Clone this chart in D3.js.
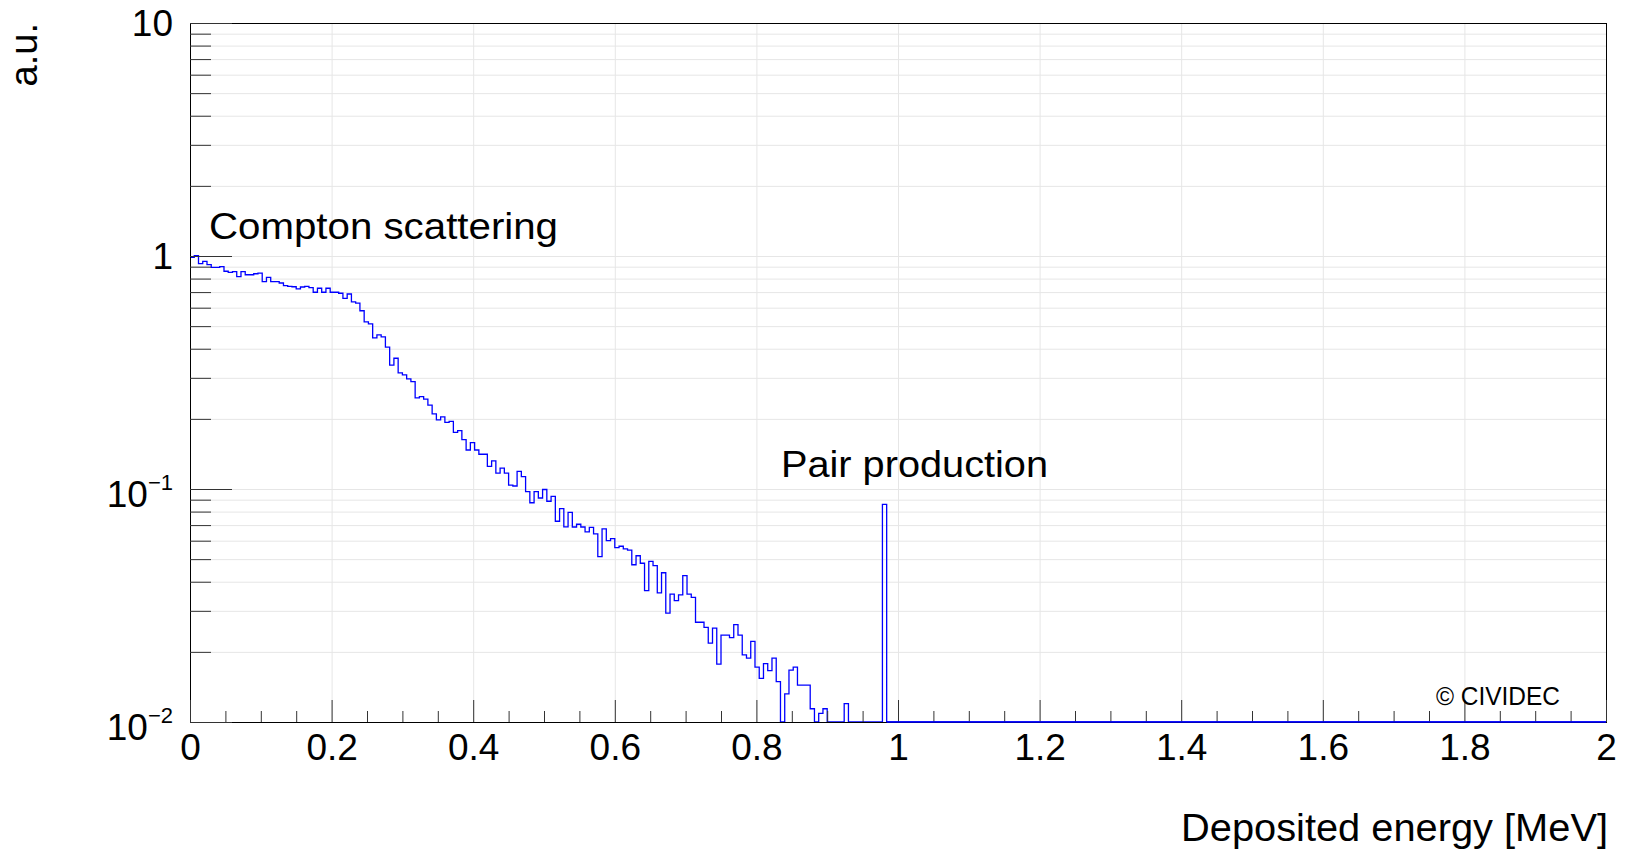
<!DOCTYPE html>
<html>
<head>
<meta charset="utf-8">
<script src="https://cdn.jsdelivr.net/npm/d3@7"></script>
<style>
  html, body { margin: 0; padding: 0; background: #fff; }
  svg { display: block; font-family: "Liberation Sans", Arial, Helvetica, sans-serif; }
</style>
</head>
<body>
<svg id="chart" width="1629" height="849"></svg>
<script>
// Histogram of deposited energy, fixed bin width in MeV, first bin starts at 0
const binWidth = 0.006;
const binContent = [
  0.987, 1.003, 0.927, 0.949, 0.918, 0.894, 0.894, 0.900, 0.860, 0.851,
  0.857, 0.815, 0.857, 0.831, 0.831, 0.839, 0.845, 0.776, 0.810, 0.776,
  0.776, 0.766, 0.746, 0.741, 0.738, 0.722, 0.736, 0.741, 0.731, 0.699,
  0.727, 0.699, 0.727, 0.699, 0.699, 0.692, 0.658, 0.687, 0.636, 0.628,
  0.582, 0.522, 0.511, 0.445, 0.459, 0.450, 0.406, 0.340, 0.364, 0.315,
  0.309, 0.297, 0.289, 0.246, 0.249, 0.243, 0.229, 0.210, 0.198, 0.204,
  0.193, 0.195, 0.175, 0.178, 0.163, 0.147, 0.158, 0.147, 0.141, 0.141,
  0.125, 0.132, 0.117, 0.123, 0.117, 0.104, 0.103, 0.119, 0.113, 0.0974,
  0.0873, 0.0974, 0.0915, 0.0995, 0.0886, 0.0930, 0.0727, 0.0823, 0.0688, 0.0794,
  0.0687, 0.0706, 0.0687, 0.0654, 0.0684, 0.0642, 0.0513, 0.0674, 0.0600, 0.0612,
  0.0560, 0.0568, 0.0553, 0.0547, 0.0473, 0.0517, 0.0480, 0.0366, 0.0489, 0.0469,
  0.0358, 0.0437, 0.0293, 0.0354, 0.0332, 0.0351, 0.0425, 0.0354, 0.0343, 0.0268,
  0.0268, 0.0255, 0.0218, 0.0253, 0.0177, 0.0236, 0.0236, 0.0230, 0.0262, 0.0236,
  0.0194, 0.0188, 0.0222, 0.0172, 0.0154, 0.0178, 0.0166, 0.0188, 0.0149, 0,
  0.0132, 0.0167, 0.0172, 0.0144, 0.0144, 0.0144, 0.0114, 0, 0.0109, 0.0114,
  0, 0, 0, 0, 0.0120, 0, 0, 0, 0, 0,
  0, 0, 0, 0.0859
];

// Axis ranges
const xDomain = [0, 2];
const yDomain = [0.01, 10];

// Tick values and labels
const xMajorTicks = [0, 0.2, 0.4, 0.6, 0.8, 1.0, 1.2, 1.4, 1.6, 1.8, 2.0];
const xTickLabels = ["0", "0.2", "0.4", "0.6", "0.8", "1", "1.2", "1.4", "1.6", "1.8", "2"];
const xMinorTicks = [0.05, 0.1, 0.15, 0.25, 0.3, 0.35, 0.45, 0.5, 0.55, 0.65, 0.7, 0.75,
  0.85, 0.9, 0.95, 1.05, 1.1, 1.15, 1.25, 1.3, 1.35, 1.45, 1.5, 1.55,
  1.65, 1.7, 1.75, 1.85, 1.9, 1.95];
const yMajorTicks = [0.01, 0.1, 1, 10];
const yTickBase = ["10", "10", "1", "10"];
const yTickExp = ["\u22122", "\u22121", "", ""];
const yMinorTicks = [0.02, 0.03, 0.04, 0.05, 0.06, 0.07, 0.08, 0.09,
  0.2, 0.3, 0.4, 0.5, 0.6, 0.7, 0.8, 0.9,
  2, 3, 4, 5, 6, 7, 8, 9];

const xTitle = "Deposited energy [MeV]";
const yTitle = "a.u.";
const comptonLabel = "Compton scattering";
const pairLabel = "Pair production";
const creditLabel = "\u00a9 CIVIDEC";

const svg = d3.select("#chart");
const frameLeft = 190, frameRight = 1606, frameTop = 23, frameBottom = 722;

const x = d3.scaleLinear().domain(xDomain).range([frameLeft, frameRight]);
const y = d3.scaleLog().domain(yDomain).range([frameBottom, frameTop]);

const gridColor = "#e6e6e6";
const tickColor = "#333";
const labelFont = "'Liberation Sans', Arial, sans-serif";

// Grid lines
const grid = svg.append("g").attr("class", "grid");
grid.append("g")
  .attr("transform", `translate(0,${frameBottom})`)
  .call(d3.axisBottom(x).tickValues(xMajorTicks.slice(1)).tickSize(-(frameBottom - frameTop)).tickFormat(""))
  .call(g => g.select(".domain").remove())
  .call(g => g.selectAll("line").attr("stroke", gridColor));
grid.append("g")
  .attr("transform", `translate(${frameLeft},0)`)
  .call(d3.axisLeft(y).tickValues(yMinorTicks.concat([0.1, 1])).tickSize(-(frameRight - frameLeft)).tickFormat(""))
  .call(g => g.select(".domain").remove())
  .call(g => g.selectAll("line").attr("stroke", gridColor));

// Histogram outline; empty bins sit on the lower edge of the frame
const floorValue = yDomain[0];
const steps = binContent.map((c, i) => ({ e: i * binWidth, v: Math.max(c, floorValue) }));
steps.push({ e: binContent.length * binWidth, v: floorValue });
steps.push({ e: xDomain[1], v: floorValue });

const line = d3.line()
  .x(d => x(d.e))
  .y(d => y(d.v))
  .curve(d3.curveStepAfter);

svg.append("path")
  .datum(steps)
  .attr("d", line)
  .attr("fill", "none")
  .attr("stroke", "#0000ff")
  .attr("stroke-width", 1.3);

// Frame: left and top edges over the histogram, bottom edge shared with empty bins
svg.append("rect")
  .attr("x", frameLeft + 0.5).attr("y", frameTop + 0.5)
  .attr("width", frameRight - frameLeft).attr("height", frameBottom - frameTop)
  .attr("fill", "none").attr("stroke", "#000").attr("stroke-width", 1);

// X axis: minor and major ticks pointing into the frame
svg.append("g")
  .attr("transform", `translate(0,${frameBottom})`)
  .call(d3.axisBottom(x).tickValues(xMinorTicks).tickSize(-11).tickFormat(""))
  .call(g => g.select(".domain").remove())
  .call(g => g.selectAll("line").attr("stroke", tickColor));
svg.append("g")
  .attr("transform", `translate(0,${frameBottom})`)
  .call(d3.axisBottom(x).tickValues(xMajorTicks).tickSize(-22).tickPadding(12)
    .tickFormat((d, i) => xTickLabels[i]))
  .call(g => g.select(".domain").remove())
  .call(g => g.selectAll("line").attr("stroke", tickColor))
  .call(g => g.selectAll("text").attr("fill", "#000").attr("font-size", 37)
    .attr("font-family", labelFont));

// Y axis: minor and major ticks
svg.append("g")
  .attr("transform", `translate(${frameLeft},0)`)
  .call(d3.axisLeft(y).tickValues(yMinorTicks).tickSize(-21).tickFormat(""))
  .call(g => g.select(".domain").remove())
  .call(g => g.selectAll("line").attr("stroke", tickColor));
svg.append("g")
  .attr("transform", `translate(${frameLeft},0)`)
  .call(d3.axisLeft(y).tickValues(yMajorTicks).tickSize(-42).tickPadding(17).tickFormat(""))
  .call(g => g.select(".domain").remove())
  .call(g => g.selectAll("line").attr("stroke", tickColor))
  .call(g => g.selectAll("text").each(function (d, i) {
    const t = d3.select(this)
      .attr("fill", "#000")
      .attr("font-size", 37)
      .attr("font-family", labelFont)
      .attr("dy", yTickExp[i] ? "0.47em" : "0.34em")
      .text(null);
    t.append("tspan").text(yTickBase[i]);
    if (yTickExp[i]) {
      t.append("tspan").attr("font-size", 22).attr("dy", -17).text(yTickExp[i]);
    }
  }));

// Redraw the bottom run of empty bins so it stays blue over the axis line
svg.append("path")
  .datum(steps.slice(-2))
  .attr("d", d3.line().x(d => x(d.e)).y(d => y(d.v)))
  .attr("fill", "none")
  .attr("stroke", "#0000ff")
  .attr("stroke-width", 1.3);

// Axis titles
svg.append("text")
  .attr("x", 1608).attr("y", 841)
  .attr("text-anchor", "end")
  .attr("font-size", 39)
  .attr("textLength", 427).attr("lengthAdjust", "spacingAndGlyphs")
  .text(xTitle);

svg.append("text")
  .attr("transform", "translate(37,23) rotate(-90)")
  .attr("text-anchor", "end")
  .attr("font-size", 38)
  .text(yTitle);

// Annotations
svg.append("text")
  .attr("x", 209).attr("y", 239)
  .attr("font-size", 37)
  .attr("textLength", 349).attr("lengthAdjust", "spacingAndGlyphs")
  .text(comptonLabel);

svg.append("text")
  .attr("x", 781).attr("y", 477)
  .attr("font-size", 37)
  .attr("textLength", 267).attr("lengthAdjust", "spacingAndGlyphs")
  .text(pairLabel);

svg.append("text")
  .attr("x", 1436).attr("y", 705)
  .attr("font-size", 25)
  .attr("textLength", 124).attr("lengthAdjust", "spacingAndGlyphs")
  .text(creditLabel);
</script>
</body>
</html>
